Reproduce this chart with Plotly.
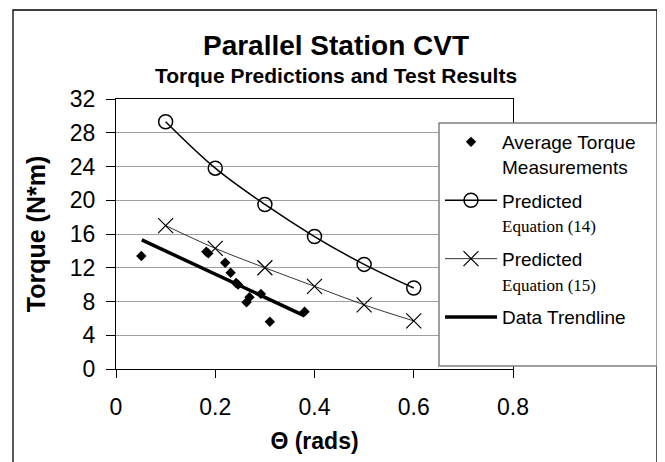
import plotly.graph_objects as go

W, H = 665, 462
OFF = 8  # page body margin shifts the figure by 8px
L, T = 116 - OFF, 99 - OFF
R, B = W - (513 - OFF), H - (369 - OFF)

# measured torque points
meas_theta = [0.051, 0.182, 0.186, 0.220, 0.231, 0.242, 0.246, 0.263, 0.269, 0.292, 0.310, 0.380]
meas_torque = [13.4, 13.9, 13.7, 12.6, 11.4, 10.2, 10.0, 7.9, 8.5, 8.9, 5.6, 6.8]

# model predictions
pred_theta = [0.1, 0.2, 0.3, 0.4, 0.5, 0.6]
pred_eq14 = [29.3, 23.8, 19.5, 15.7, 12.4, 9.6]
pred_eq15 = [17.0, 14.3, 12.0, 9.8, 7.6, 5.7]

# trendline end points
trend_theta = [0.052, 0.380]
trend_torque = [15.3, 6.3]

eq = '<span style="font-family:Liberation Serif, Times New Roman, serif;font-size:17px">Equation ({})</span>'


def px_x(p):
    # reference pixel -> paper coordinate
    return (p - OFF - L) / (W - L - R)


def px_y(p):
    return (H - B - (p - OFF)) / (H - T - B)


fig = go.Figure()
fig.add_trace(go.Scatter(
    x=meas_theta, y=meas_torque, mode="markers", legendgroup="a",
    name="Average Torque<br>Measurements",
    marker=dict(symbol="diamond", size=8, color="black"),
))
fig.add_trace(go.Scatter(
    x=pred_theta, y=pred_eq14, mode="lines+markers", legendgroup="b",
    name="Predicted<br>" + eq.format(14),
    line=dict(color="black", width=1.5, shape="spline"),
    marker=dict(symbol="circle-open", size=14, color="black", line=dict(width=1.5)),
))
fig.add_trace(go.Scatter(
    x=pred_theta, y=pred_eq15, mode="lines+markers", legendgroup="c",
    name="Predicted<br>" + eq.format(15),
    line=dict(color="black", width=0.8, shape="spline"),
    marker=dict(symbol="x-thin-open", size=15, color="black", line=dict(width=1.2)),
))
fig.add_trace(go.Scatter(
    x=trend_theta, y=trend_torque, mode="lines", legendgroup="d",
    name="Data Trendline",
    line=dict(color="black", width=3.5),
))

# outer chart border + legend box
fig.add_shape(type="rect", xref="paper", yref="paper",
              x0=px_x(13), x1=px_x(657), y0=px_y(10), y1=px_y(480),
              line=dict(color="black", width=1.3), layer="below")
fig.add_shape(type="rect", xref="paper", yref="paper",
              x0=px_x(439), x1=px_x(657), y0=px_y(123), y1=px_y(366),
              fillcolor="white", line=dict(color="#808080", width=1.5), layer="above")

fig.add_annotation(text="<b>Torque Predictions and Test Results</b>",
                   xref="paper", yref="paper", x=px_x(336), y=px_y(76),
                   showarrow=False, font=dict(size=21, color="black"),
                   xanchor="center", yanchor="middle")

fig.update_layout(
    width=W, height=H,
    margin=dict(l=L, r=R, t=T, b=B, autoexpand=False),
    paper_bgcolor="white", plot_bgcolor="white",
    font=dict(family="Liberation Sans, Arial, sans-serif", color="black"),
    title=dict(text="<b>Parallel Station CVT</b>", x=(336 - OFF) / W, xref="container", xanchor="center",
               y=1 - (45 - OFF) / H, yref="container", yanchor="middle", font=dict(size=28, color="black")),
    showlegend=True,
    legend=dict(x=px_x(440), y=px_y(123), xanchor="left", yanchor="top",
                bgcolor="rgba(0,0,0,0)", borderwidth=0, valign="top",
                itemwidth=52, font=dict(size=19, color="black"),
                traceorder="grouped", tracegroupgap=6),
    xaxis=dict(range=[0, 0.8], dtick=0.2, tickformat="~g", showgrid=False, zeroline=False,
               showline=True, linecolor="black", linewidth=1.3, mirror=True,
               ticks="outside", ticklen=8, tickcolor="black", tickfont=dict(size=23),
               ticklabelstandoff=9,
               title=dict(text="<b>Θ (rads)</b>", font=dict(size=23), standoff=14)),
    yaxis=dict(range=[0, 32], dtick=4, showgrid=True, gridcolor="#a0a0a0", gridwidth=1, zeroline=False,
               showline=True, linecolor="black", linewidth=1.3, mirror=True,
               ticks="outside", ticklen=9, tickcolor="black", tickfont=dict(size=23),
               ticklabelstandoff=6,
               title=dict(text="<b>Torque (N*m)</b>", font=dict(size=25), standoff=16)),
)

fig.write_html("out.html")
